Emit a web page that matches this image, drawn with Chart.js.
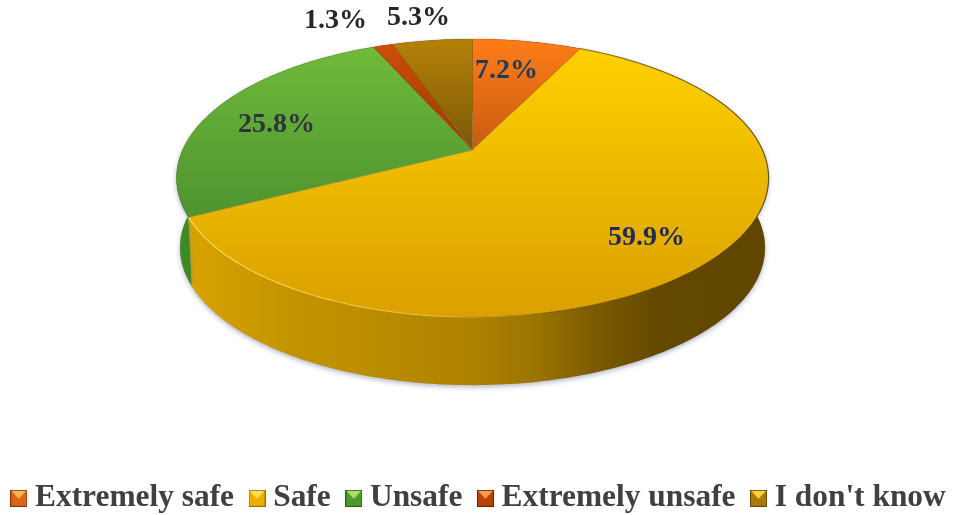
<!DOCTYPE html>
<html>
<head>
<meta charset="utf-8">
<title>Pie</title>
<script src="https://cdn.jsdelivr.net/npm/chart.js@4"></script>
<style>
  html, body { margin: 0; padding: 0; background: #fff; }
  #chart { display: block; }
</style>
</head>
<body>
<canvas id="chart" width="957" height="515"></canvas>
<script>
// values
const categories = ["Extremely safe", "Safe", "Unsafe", "Extremely unsafe", "I don't know"];
const shares = [7.2, 59.9, 25.8, 1.3, 5.3];

// colours of each slice
const topLight = ["#ff7d18", "#fdd000", "#70ba3a", "#cc4e08", "#b58208"];
const topDark = ["#c85a12", "#dba000", "#4e9330", "#9c3a00", "#7a5808"];
const wallBase = ["#b8500f", "#d8a400", "#3f8a22", "#8c3400", "#8a6408"];
const iconLight = ["#ffb45a", "#ffe050", "#a8e070", "#ff9a50", "#ffd040"];
const iconBody = ["#dc6414", "#e8b000", "#4c9a2c", "#b84208", "#a87a08"];
const iconEdge = ["#8a3a08", "#9a7400", "#2c6414", "#6c2400", "#6a4c04"];

// labels, centre point measured from the pie's apex
const labelColors = ["#1d3c5c", "#1f2a55", "#2c3440", "#262626", "#262626"];
const labelOffsets = [[34, -79], [174, 88], [-196, -25], [-137, -129], [-54, -132]];

// tilt of the disc
const radius = 290;
const squash = 0.46;
const persp = 0.2016;
const bottomScale = 0.988;
const depth = 70;
// the legend needs a wide box, so the pie is moved onto its spot afterwards
const nudgeX = -6;
const nudgeY = -80;

function makeIcon(i) {
  const c = document.createElement("canvas");
  c.width = 17;
  c.height = 17;
  const g = c.getContext("2d");
  g.fillStyle = iconEdge[i];
  g.fillRect(0, 0, 17, 17);
  g.fillStyle = iconBody[i];
  g.fillRect(1, 1, 15, 15);
  g.fillStyle = iconLight[i];
  g.beginPath();
  g.moveTo(1, 1);
  g.lineTo(16, 1);
  g.lineTo(8.5, 9);
  g.closePath();
  g.fill();
  return c;
}

function project(el, t, lower) {
  const x = Math.cos(t), y = Math.sin(t);
  const w = 1 - persp * y;
  const s = lower ? bottomScale : 1;
  return {
    x: el.x + radius * x / w * s,
    y: el.y + radius * squash * y / w * s + (lower ? depth : 0)
  };
}

function arcPoints(el, lower) {
  const pts = [];
  const n = Math.max(4, Math.ceil((el.endAngle - el.startAngle) * 60));
  for (let i = 0; i <= n; i++) {
    pts.push(project(el, el.startAngle + (el.endAngle - el.startAngle) * i / n, lower));
  }
  return pts;
}

const tiltedPie = {
  id: "tiltedPie",
  beforeDatasetsDraw(chart) {
    const ctx = chart.ctx;
    const arcs = chart.getDatasetMeta(0).data;
    ctx.save();
    ctx.translate(nudgeX, nudgeY);

    // side wall first, the top face covers the back of it
    arcs.forEach((el, i) => {
      const rim = arcPoints(el, false);
      const low = arcPoints(el, true).reverse();
      ctx.beginPath();
      rim.concat(low).forEach((p, j) => j ? ctx.lineTo(p.x, p.y) : ctx.moveTo(p.x, p.y));
      ctx.closePath();
      ctx.save();
      ctx.shadowColor = "rgba(110,120,160,0.55)";
      ctx.shadowBlur = 5;
      ctx.shadowOffsetY = 2;
      ctx.fillStyle = wallBase[i];
      ctx.fill();
      ctx.restore();
      const shade = ctx.createLinearGradient(el.x - radius, 0, el.x + radius, 0);
      shade.addColorStop(0, "rgba(40,25,0,0)");
      shade.addColorStop(0.2, "rgba(40,25,0,0.12)");
      shade.addColorStop(0.5, "rgba(40,25,0,0.24)");
      shade.addColorStop(0.62, "rgba(40,25,0,0.36)");
      shade.addColorStop(0.72, "rgba(40,25,0,0.54)");
      shade.addColorStop(0.82, "rgba(40,25,0,0.66)");
      shade.addColorStop(1, "rgba(40,25,0,0.68)");
      ctx.fillStyle = shade;
      ctx.fill();
    });

    // top face
    arcs.forEach((el, i) => {
      const rim = arcPoints(el, false);
      const ys = rim.map(p => p.y).concat(el.y);
      const grad = ctx.createLinearGradient(0, Math.min(...ys), 0, Math.max(...ys));
      grad.addColorStop(0, topLight[i]);
      grad.addColorStop(1, topDark[i]);
      ctx.beginPath();
      ctx.moveTo(el.x, el.y);
      rim.forEach(p => ctx.lineTo(p.x, p.y));
      ctx.closePath();
      ctx.fillStyle = grad;
      ctx.fill();
      ctx.strokeStyle = "rgba(90,60,0,0.25)";
      ctx.lineWidth = 0.7;
      ctx.stroke();
    });

    // light edge along the front of the rim
    const el = arcs[1];
    const edge = ctx.createLinearGradient(el.x - radius, 0, el.x + radius, 0);
    edge.addColorStop(0, "rgba(255,225,90,0.95)");
    edge.addColorStop(0.45, "rgba(255,215,70,0.55)");
    edge.addColorStop(0.65, "rgba(80,60,0,0.4)");
    edge.addColorStop(1, "rgba(50,35,0,0.6)");
    ctx.beginPath();
    arcPoints(el, false).forEach((p, j) => j ? ctx.lineTo(p.x, p.y) : ctx.moveTo(p.x, p.y));
    ctx.strokeStyle = edge;
    ctx.lineWidth = 1.2;
    ctx.stroke();
    ctx.restore();
    return false;
  },
  afterDraw(chart) {
    const ctx = chart.ctx;
    const arcs = chart.getDatasetMeta(0).data;
    ctx.save();
    ctx.translate(nudgeX, nudgeY);
    ctx.font = "bold 28px 'Liberation Serif'";
    ctx.textAlign = "center";
    ctx.textBaseline = "middle";
    arcs.forEach((el, i) => {
      ctx.fillStyle = labelColors[i];
      ctx.fillText(shares[i].toFixed(1) + "%", el.x + labelOffsets[i][0], el.y + labelOffsets[i][1]);
    });
    ctx.restore();
  }
};

new Chart(document.getElementById("chart"), {
  type: "pie",
  data: {
    labels: categories,
    datasets: [{
      data: shares,
      backgroundColor: topLight,
      borderWidth: 0,
      radius: radius
    }]
  },
  options: {
    responsive: false,
    animation: false,
    layout: { padding: { top: 0, left: -29, right: -36, bottom: -9 } },
    plugins: {
      tooltip: { enabled: false },
      legend: {
        position: "bottom",
        labels: {
          usePointStyle: true,
          pointStyleWidth: 1,
          padding: 22.5,
          color: "#404040",
          font: { family: "'Liberation Serif'", size: 31.4, weight: "bold" },
          generateLabels: () => categories.map((text, i) => ({
            text: text,
            pointStyle: makeIcon(i),
            fontColor: "#404040",
            index: i
          }))
        }
      }
    }
  },
  plugins: [tiltedPie]
});
</script>
</body>
</html>
